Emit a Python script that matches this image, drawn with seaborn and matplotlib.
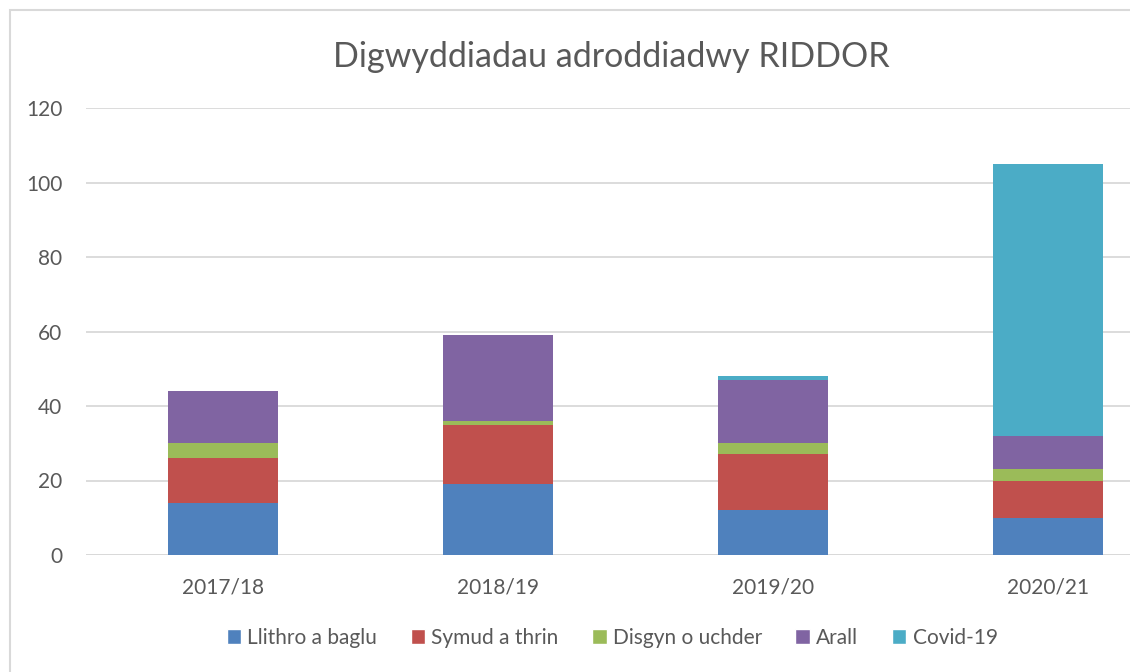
import seaborn as sns
import matplotlib.pyplot as plt
import pandas as pd
from matplotlib.patches import Patch, Rectangle

# data
years = ['2017/18', '2018/19', '2019/20', '2020/21']
series = ['Llithro a baglu', 'Symud a thrin', 'Disgyn o uchder', 'Arall', 'Covid-19']
llithro = [14, 19, 12, 10]
symud = [12, 16, 15, 10]
disgyn = [4, 1, 3, 3]
arall = [14, 23, 17, 9]
covid = [0, 0, 1, 73]
colors = ['#4F81BD', '#C0504D', '#9BBB59', '#8064A2', '#4BACC6']

sns.set_style('white')
plt.rcParams['font.family'] = ['Lato', 'DejaVu Sans']
text_color = '#595959'

df = pd.DataFrame({'year': years, series[0]: llithro, series[1]: symud,
                   series[2]: disgyn, series[3]: arall, series[4]: covid})
# cumulative totals for stacking
cum = df[series].cumsum(axis=1)
cum['year'] = df['year']

W, H = 1130, 672
fig = plt.figure(figsize=(W / 100, H / 100), dpi=100)
ax = fig.add_axes([86 / W, (H - 555) / H, 1099 / W, 447 / H])

# draw tallest first so lower segments sit on top
for name, col in reversed(list(zip(series, colors))):
    sns.barplot(data=cum, x='year', y=name, color=col, width=0.4,
                saturation=1, ax=ax, linewidth=0, zorder=3)

ax.set_ylim(0, 120)
ax.set_xlim(-0.5, 3.5)
ax.set_yticks(range(0, 121, 20))
ax.yaxis.grid(True, color='#D9D9D9', linewidth=1.3, zorder=0)
ax.set_axisbelow(True)
for s in ax.spines.values():
    s.set_visible(False)
ax.axhline(0, color='#D9D9D9', linewidth=1.3, zorder=2)
ax.tick_params(axis='both', length=0, labelsize=15, labelcolor=text_color)
ax.tick_params(axis='y', pad=17)
ax.tick_params(axis='x', pad=16)
ax.set_xlabel('')
ax.set_ylabel('')

fig.text(611 / W, 1 - 57 / H, 'Digwyddiadau adroddiadwy RIDDOR',
         ha='center', va='center', fontsize=24.5, color=text_color)

handles = [Patch(facecolor=c, label=n) for n, c in zip(series, colors)]
fig.legend(handles=handles, loc='center', bbox_to_anchor=(612 / W, 1 - 638 / H),
           ncol=5, frameon=False, fontsize=15, labelcolor=text_color,
           handlelength=0.7, handleheight=0.7, handletextpad=0.3,
           columnspacing=1.6)

# light chart border
fig.patches.append(Rectangle((10 / W, -0.1), 2, 1 - 10 / H + 0.1,
                             transform=fig.transFigure, fill=False,
                             edgecolor='#D9D9D9', linewidth=1.5))

fig.savefig('out.png', dpi=100)
